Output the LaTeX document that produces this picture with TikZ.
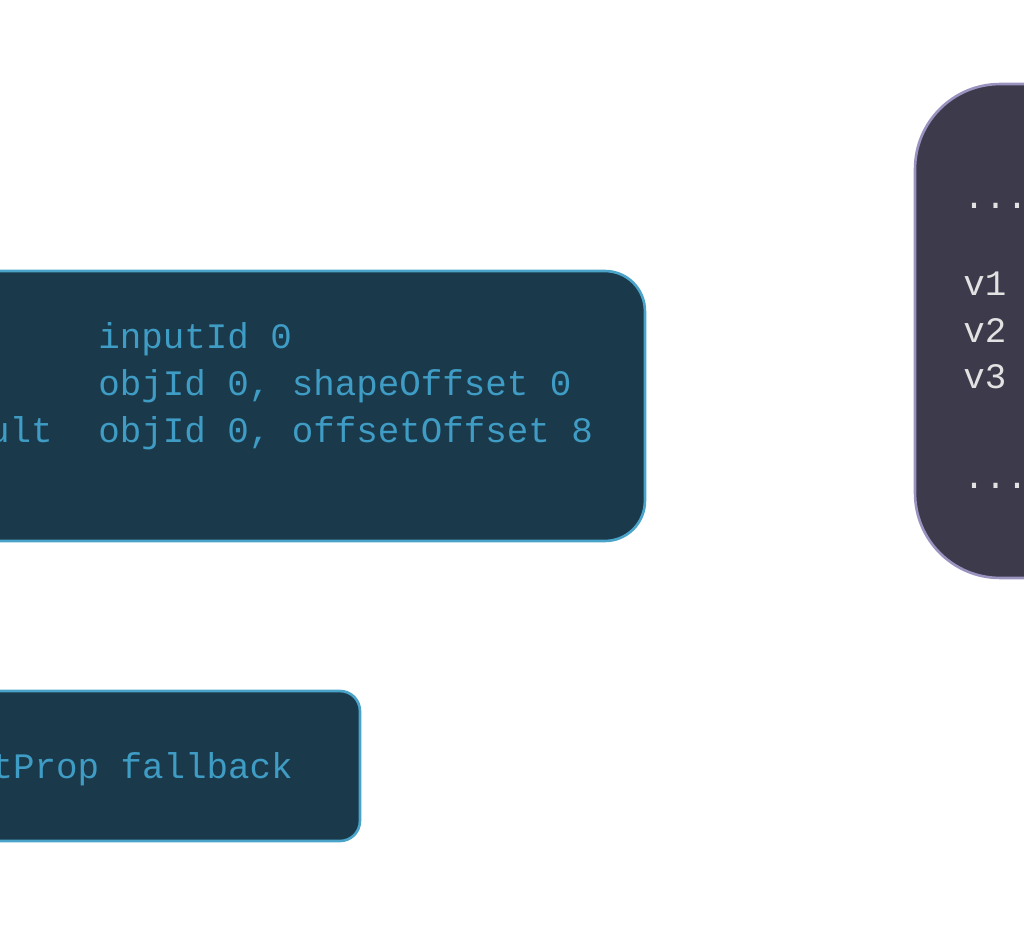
\documentclass[tikz,border=0pt]{standalone}
\usepackage{fontspec}
\setmainfont{Liberation Mono}
\usetikzlibrary{positioning}
\definecolor{boxfill}{HTML}{1A3A4C}
\definecolor{boxline}{HTML}{4AA3C8}
\definecolor{boxtext}{HTML}{3F9CC4}
\definecolor{memfill}{HTML}{3C3A4B}
\definecolor{memline}{HTML}{9A93C0}
\definecolor{memtext}{HTML}{E2E2E2}
\tikzset{
  code/.style={font=\fontsize{20.4}{26}\selectfont, inner sep=0pt, anchor=base west},
}
\begin{document}
\begin{tikzpicture}[x=0.02cm, y=-0.02cm]
		\useasboundingbox (0,0) rectangle (1024,936);
		% input box
		\node[draw=boxline, fill=boxfill, line width=1.5pt, rounded corners=0.8cm,
		      minimum width=14.1cm, minimum height=5.4cm, inner sep=0pt] (inbox) at (292.5,406) {};
		\node[code, boxtext] (inl1) at (98,348) {inputId 0};
		\node[code, boxtext] (inl2) at (98,395) {objId 0, shapeOffset 0};
		\node[code, boxtext] (inl3) at (98,442) {objId 0, offsetOffset 8};
		\node[code, boxtext, anchor=base east] (inres) at (53,442) {ult};

		% fallback box
		\node[draw=boxline, fill=boxfill, line width=1.5pt, rounded corners=0.4cm,
		      minimum width=8.4cm, minimum height=3cm, inner sep=0pt] (fbbox) at (150,766) {};
		\node[code, boxtext, anchor=base east] (fbtext) at (293,778) {tProp fallback};

		% memory box
		\node[draw=memline, fill=memfill, line width=1.5pt, rounded corners=1.7cm,
		      minimum width=5cm, minimum height=9.88cm, inner sep=0pt] (membox) at (1040,331) {};
		\node[code, memtext] (mtop) at (963,208) {...};
		\node[code, memtext] (mv1) at (963,295) {v1};
		\node[code, memtext] (mv2) at (963,342) {v2};
		\node[code, memtext] (mv3) at (963,388) {v3};
		\node[code, memtext] (mbot) at (963,488) {...};
	\end{tikzpicture}
\end{document}
